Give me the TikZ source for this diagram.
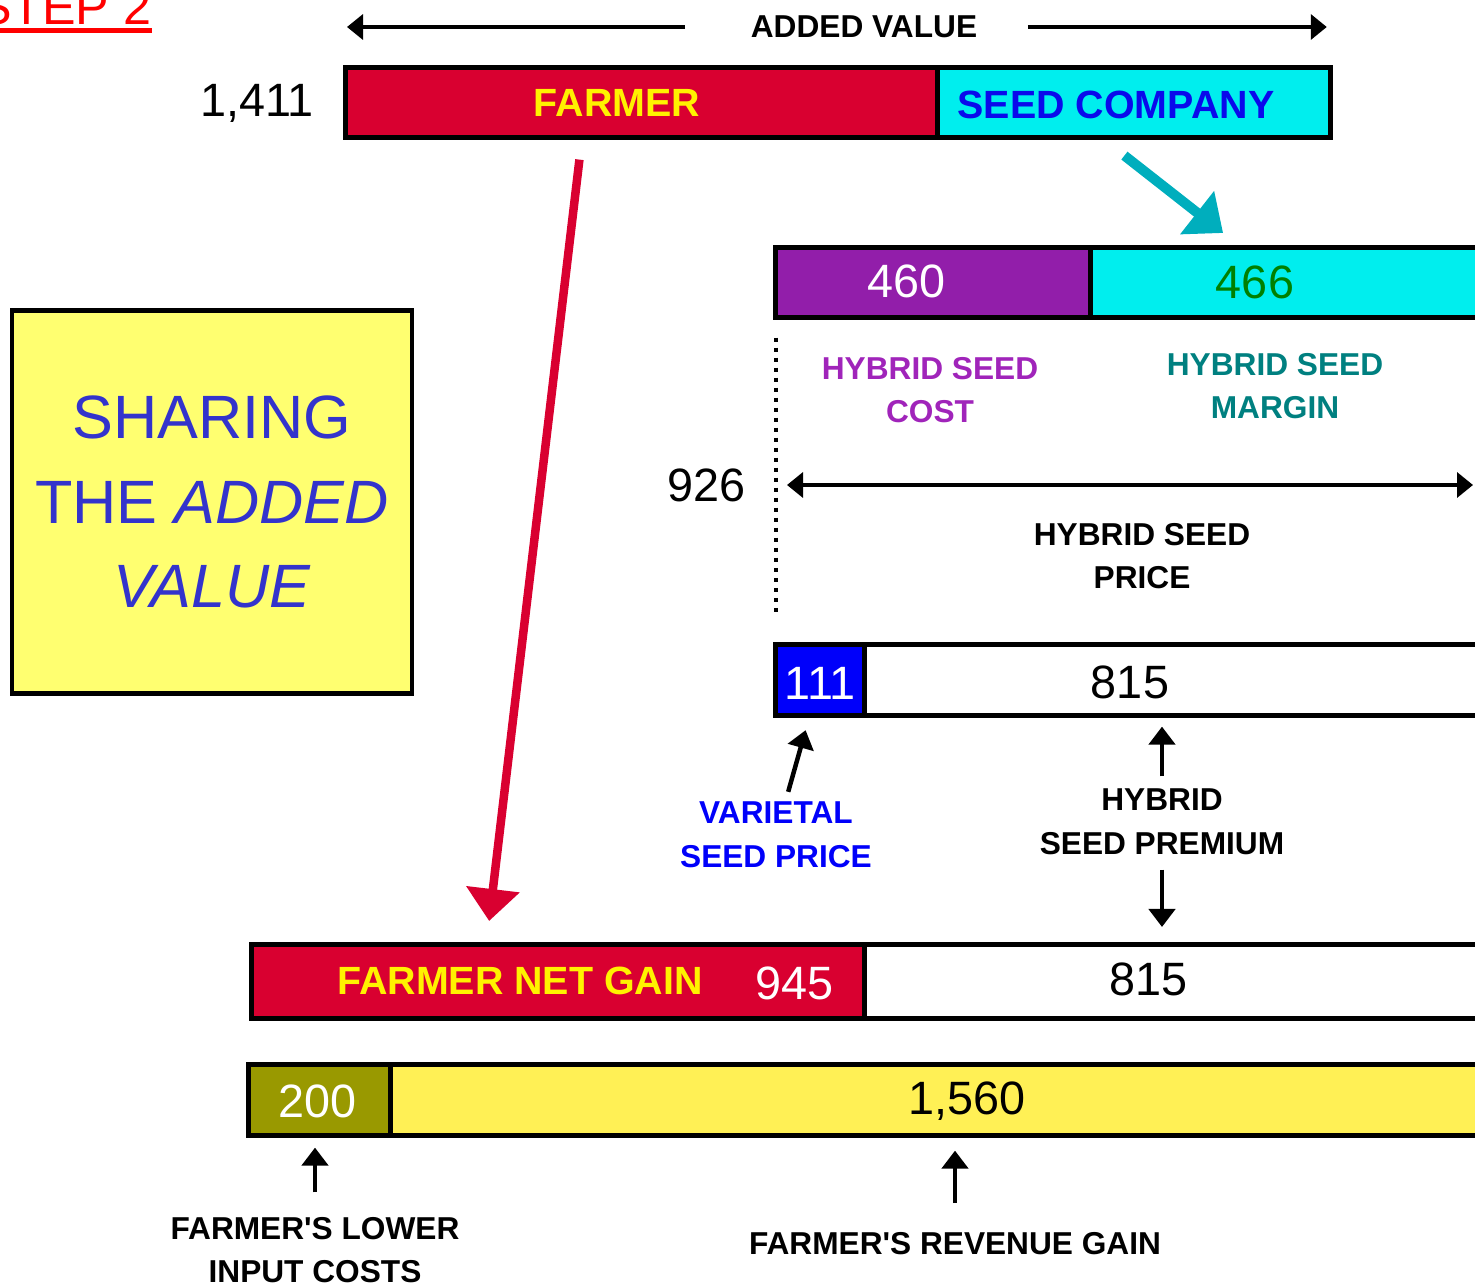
\documentclass[tikz,border=0pt]{standalone}
\usepackage{fontspec}
\setmainfont{Liberation Sans}
\usetikzlibrary{arrows.meta}

\definecolor{farmred}{RGB}{217,0,48}
\definecolor{seedcyan}{RGB}{0,238,238}
\definecolor{seedblue}{RGB}{10,10,235}
\definecolor{arrowteal}{RGB}{0,174,189}
\definecolor{hybpurple}{RGB}{146,30,170}
\definecolor{costpurple}{RGB}{160,36,186}
\definecolor{marginteal}{RGB}{0,128,128}
\definecolor{margingreen}{RGB}{0,128,0}
\definecolor{varblue}{RGB}{0,0,250}
\definecolor{inputolive}{RGB}{153,153,0}
\definecolor{revyellow}{RGB}{255,240,85}
\definecolor{boxyellow}{RGB}{255,255,112}
\definecolor{sharetext}{RGB}{51,51,204}

\tikzset{
  bar/.style={draw, line width=1.3pt, anchor=north west, inner sep=0pt, minimum height=7mm},
  num/.style={font=\fontsize{13.3}{16}\selectfont, inner sep=0pt},
  tagtext/.style={font=\bfseries\fontsize{11.2}{13}\selectfont, inner sep=0pt},
  lbl/.style={font=\bfseries\fontsize{9}{12.4}\selectfont, align=center, inner sep=0pt},
  pointer/.style={line width=0.45mm, -{Triangle[length=1.8mm,width=2.6mm]}},
  span/.style={line width=0.35mm, -{Triangle[length=1.6mm,width=2.5mm]}},
}

\begin{document}
\begin{tikzpicture}[x=0.01cm, y=-0.01cm]
  \clip (0,0) rectangle (1475,1288);

  % step heading, cut at the page edge
  \node[anchor=base east, inner sep=0pt, text=red, font=\fontsize{14.3}{16}\selectfont] (step2) at (152,25) {STEP 2};
  \draw[red, line width=1.4pt] ([yshift=-1.6pt]step2.base west) -- ([yshift=-1.6pt]step2.base east);

  % added value: farmer and seed company
  \node[lbl] (added) at (864,27) {ADDED VALUE};
  \node[num] (v1411) at (257,103) {1,411};
  \node[bar, fill=farmred, minimum width=59.2mm] (farmer) at (343,65) {};
  \node[bar, fill=seedcyan, minimum width=39.3mm] (seedco) at (935,65) {};
  \node[tagtext, text=yellow] (farmertxt) at (617,103) {FARMER};
  \node[tagtext, text=seedblue] (seedtxt) at (1116,105) {SEED COMPANY};
  \draw[span] ([xshift=-6.5mm]added.west) -- ([xshift=0.4mm]farmer.north west |- added.west);
  \draw[span] ([xshift=5mm]added.east) -- ([xshift=-0.6mm]seedco.north east |- added.east);

  % hybrid seed price split
  \node[bar, fill=hybpurple, minimum width=31.5mm] (hcost) at (773,245) {};
  \node[bar, fill=seedcyan, minimum width=50mm] (hmargin) at (1088,245) {};
  \node[num, text=white] (v460) at (907,281) {460};
  \node[num, text=margingreen] (v466) at (1255,282) {466};
  \node[lbl, text=costpurple] (costcap) at (930,390) {HYBRID SEED\\COST};
  \node[lbl, text=marginteal] (margincap) at (1275,386) {HYBRID SEED\\MARGIN};
  \node[num] (v926) at (707,485) {926};
  \node[lbl] (pricecap) at (1142,556) {HYBRID SEED\\PRICE};
  \coordinate (priceend) at (1473,485);
  \draw[line width=0.35mm, {Triangle[length=1.6mm,width=2.5mm]}-{Triangle[length=1.6mm,width=2.5mm]}]
    ([xshift=1.4mm]v926.east -| hcost.west) -- (priceend);

  % varietal price and hybrid premium
  \node[bar, fill=varblue, minimum width=8.9mm, minimum height=7.1mm] (varbar) at (773,642) {};
  \node[bar, fill=white, minimum width=70mm, minimum height=7.1mm] (prembar) at (862,642) {};
  \node[num, text=white] (v111) at (820,683) {111};
  \node[num] (v815a) at (1130,682) {815};
  \draw[line width=0.42mm, dash pattern=on 0.4mm off 0.6mm]
    ([xshift=0.3mm, yshift=-1.8mm]hcost.south west) -- ([xshift=0.3mm, yshift=2.9mm]varbar.north west);
  \node[lbl, text=varblue] (varcap) at (776,835) {VARIETAL\\SEED PRICE};
  \node[lbl] (premcap) at (1162,822) {HYBRID\\SEED PREMIUM};
  \draw[pointer, shorten <=1mm, shorten >=1.3mm] (varcap) -- (varbar);

  % farmer net gain
  \node[bar, fill=farmred, minimum width=61.3mm, minimum height=7.4mm] (netgain) at (249,942) {};
  \node[bar, fill=white, minimum width=70mm, minimum height=7.4mm] (netrest) at (862,942) {};
  \node[tagtext, text=yellow] (nettxt) at (520,981) {FARMER NET GAIN};
  \node[num, text=white] (v945) at (795,983) {945};
  \node[num] (v815b) at (1149,979) {815};
  \draw[pointer, shorten <=1.2mm, shorten >=0.9mm] (premcap.north) -- (premcap.north |- prembar.south);
  \draw[pointer, shorten <=1.4mm, shorten >=1.5mm] (premcap.south) -- (premcap.south |- netrest.north);

  % revenue side
  \node[bar, fill=inputolive, minimum width=14.2mm, minimum height=7.1mm] (inputbar) at (246,1062) {};
  \node[bar, fill=revyellow, minimum width=120mm, minimum height=7.1mm] (revbar) at (388,1062) {};
  \node[num, text=white] (v200) at (318,1101) {200};
  \node[num] (v1560) at (967,1101) {1,560};
  \node[lbl] (lowercap) at (315,1250) {FARMER\textquotesingle S LOWER\\INPUT COSTS};
  \node[lbl] (revcap) at (955,1244) {FARMER\textquotesingle S REVENUE GAIN};
  \draw[pointer, shorten <=2.4mm, shorten >=1mm] (lowercap.north) -- (lowercap.north |- inputbar.south);
  \draw[pointer, shorten <=2.9mm, shorten >=1.3mm] (revcap.north) -- (revcap.north |- revbar.south);

  % big arrows
  \coordinate (redfrom) at ([xshift=-6.2mm, yshift=-2mm]farmer.south);
  \coordinate (redto) at ([xshift=24mm, yshift=2.1mm]netgain.north west);
  \draw[farmred, line width=0.85mm, -{Triangle[length=3.2mm,width=5.2mm]}] (redfrom) -- (redto);
  \coordinate (tealfrom) at ([xshift=-0.95mm, yshift=-1.6mm]seedco.south);
  \coordinate (tealto) at ([xshift=13.5mm, yshift=1.2mm]hmargin.north west);
  \draw[arrowteal, line width=1mm, -{Triangle[length=3.3mm,width=5.3mm]}] (tealfrom) -- (tealto);

  % title box
  \node[draw, line width=1.3pt, fill=boxyellow, minimum width=40mm, minimum height=38.3mm,
        text=sharetext, align=center, font=\fontsize{17.4}{24}\selectfont] (sharebox) at (212,502)
    {SHARING\\THE \textit{ADDED}\\\textit{VALUE}};
\end{tikzpicture}
\end{document}
